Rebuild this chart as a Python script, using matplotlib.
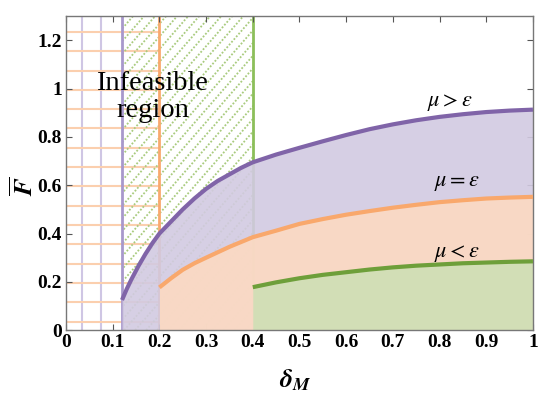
import numpy as np
import matplotlib
matplotlib.use("Agg")
import matplotlib.pyplot as plt
from matplotlib.patches import Rectangle

plt.rcParams['font.family'] = ['Liberation Serif', 'DejaVu Serif']
plt.rcParams['mathtext.fontset'] = 'stix'

# curves (delta_M, F)
x_gt = [0.12, 0.13, 0.14, 0.155, 0.17, 0.185, 0.2, 0.225, 0.25, 0.275, 0.3, 0.325, 0.35,
        0.375, 0.4, 0.45, 0.5, 0.55, 0.6, 0.65, 0.7, 0.75, 0.8, 0.85, 0.9, 0.95, 1.0]
y_gt = [0.125, 0.17, 0.21, 0.265, 0.315, 0.36, 0.40, 0.45, 0.50, 0.545, 0.585, 0.618, 0.645,
        0.672, 0.695, 0.727, 0.755, 0.782, 0.808, 0.832, 0.852, 0.869, 0.883, 0.894, 0.903, 0.909, 0.913]

x_eq = [0.2, 0.225, 0.25, 0.275, 0.3, 0.35, 0.4, 0.45, 0.5, 0.55, 0.6, 0.65,
        0.7, 0.75, 0.8, 0.85, 0.9, 0.95, 1.0]
y_eq = [0.177, 0.215, 0.25, 0.277, 0.30, 0.345, 0.385, 0.412, 0.44, 0.46, 0.478, 0.493,
        0.507, 0.519, 0.53, 0.538, 0.545, 0.549, 0.552]

x_lt = [0.4, 0.45, 0.5, 0.55, 0.6, 0.65, 0.7, 0.75, 0.8, 0.85, 0.9, 0.95, 1.0]
y_lt = [0.178, 0.198, 0.215, 0.229, 0.24, 0.251, 0.26, 0.267, 0.272, 0.277, 0.28, 0.283, 0.285]

# feasibility bounds for each case
bounds = [0.12, 0.2, 0.4]
curve_labels = [r'$\mu > \varepsilon$', r'$\mu = \varepsilon$', r'$\mu < \varepsilon$']
label_pos = [(0.822, 0.944), (0.836, 0.607), (0.836, 0.318)]

line_cols = ['#8064A8', '#F9A86C', '#6E9F3A']
bound_cols = ['#A898CC', '#F9A96E', '#8CBF5A']
fill_cols = ['#D2CAE1', '#FCDAC2', '#D0DFB6']

xticks = np.arange(0, 1.01, 0.1)
xticklabels = ['0', '0.1', '0.2', '0.3', '0.4', '0.5', '0.6', '0.7', '0.8', '0.9', '1']
yticks = np.arange(0, 1.21, 0.2)
yticklabels = ['0', '0.2', '0.4', '0.6', '0.8', '1', '1.2']

fig = plt.figure(figsize=(5.5, 3.94), dpi=100)
ax = fig.add_axes([0.12, 0.162, 0.849, 0.797])
ax.set_xlim(0, 1)
ax.set_ylim(0, 1.3)

#background patterns of the infeasible region
for xv in [0.034, 0.074]:
    ax.plot([xv, xv], [0, 1.3], color='#CFC6E4', lw=1.5, zorder=1)
for yv in np.arange(0.035, 1.3, 0.08):
    ax.plot([0, 0.2], [yv, yv], color='#FBCFAE', lw=1.5, zorder=1)
clip = Rectangle((0.12, 0), 0.28, 1.3, transform=ax.transData)
slope = 2.22
for x0 in np.arange(0.12 - 1.3 / slope, 0.41, 0.0236):
    l, = ax.plot([x0, x0 + 1.3 / slope], [0, 1.3], color='#A9CB7E', lw=1.3,
                 ls=(0, (1, 1)), zorder=1)
    l.set_clip_path(clip)

for b, c in zip(bounds, bound_cols):
    ax.plot([b, b], [0, 1.3], color=c, lw=2, zorder=1.5)

ax.fill_between(x_gt, 0, y_gt, color=fill_cols[0], alpha=0.9, lw=0, zorder=2)
ax.fill_between(x_eq, 0, y_eq, color=fill_cols[1], alpha=0.9, lw=0, zorder=2.1)
ax.fill_between(x_lt, 0, y_lt, color=fill_cols[2], alpha=0.95, lw=0, zorder=2.2)

for xs, ys, c in zip([x_gt, x_eq, x_lt], [y_gt, y_eq, y_lt], line_cols):
    ax.plot(xs, ys, color=c, lw=3, solid_capstyle='butt', zorder=3)

for lab, (px, py) in zip(curve_labels, label_pos):
    ax.text(px, py, lab, fontsize=16, ha='center', va='center', zorder=4)

ax.text(0.185, 0.965, 'Infeasible\nregion', fontsize=20.5, ha='center', va='center',
        linespacing=1.1, zorder=4)

ax.set_xticks(xticks)
ax.set_xticklabels(xticklabels)
ax.set_yticks(yticks)
ax.set_yticklabels(yticklabels)
for lab in ax.get_xticklabels() + ax.get_yticklabels():
    lab.set_fontweight('bold')
    lab.set_fontsize(14)
ax.tick_params(direction='in', length=4, width=0.8, color='#555555',
               top=True, right=True, pad=3)
for s in ax.spines.values():
    s.set_color('#777777')
    s.set_linewidth(1)

ax.set_xlabel(r'$\mathbfit{\delta}_{\mathbfit{M}}$', fontsize=19)
ax.xaxis.set_label_coords(0.49, -0.12)
ax.set_ylabel(r'$\overline{\mathbfit{F}}$', fontsize=19)
ax.yaxis.set_label_coords(-0.06, 0.46)

fig.savefig('out.png', dpi=100)
